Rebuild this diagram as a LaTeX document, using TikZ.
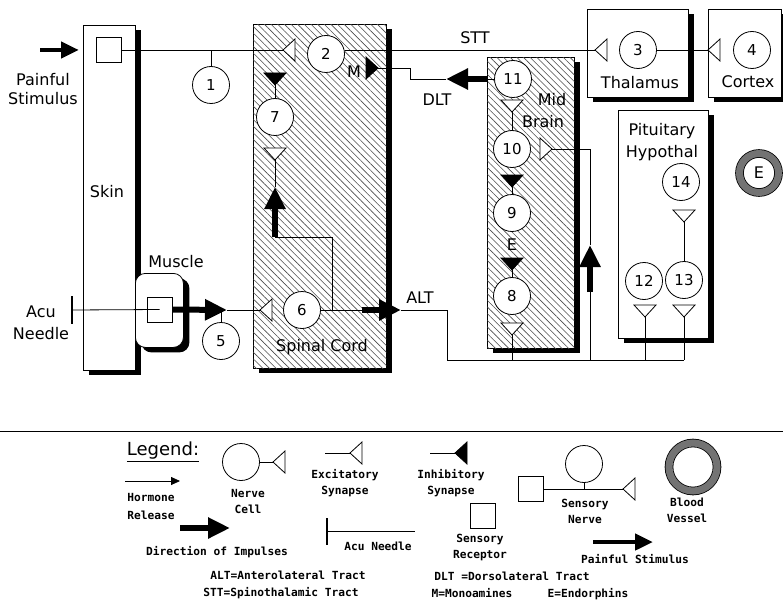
\documentclass[tikz,border=0pt]{standalone}
\usepackage{fontspec}
\setmainfont{DejaVu Sans}
\newfontfamily\legendfont{DejaVu Sans Mono}
\usetikzlibrary{arrows.meta, patterns.meta, shadows}

\tikzset{
  pics/exc/.style={code={\draw[fill=white] (0,0) -- (12,-11) -- (12,11) -- cycle;}},
  pics/inh/.style={code={\draw[fill=black] (0,0) -- (12,-11) -- (12,11) -- cycle;}},
}

\begin{document}
\begin{tikzpicture}[x=1pt, y=-1pt, line width=0.8pt,
    every node/.style={font=\fontsize{16}{19}\selectfont},
    organ/.style={rectangle, draw, fill=white, anchor=north west, inner sep=0pt,
      drop shadow={shadow xshift=6pt, shadow yshift=-5pt, opacity=1, fill=black}},
    hatched/.style={postaction={pattern={Lines[angle=-45, distance=4.7pt, line width=0.6pt]}, pattern color=black!70}},
    cell/.style={circle, draw, fill=white, minimum size=37pt, inner sep=0pt, font=\fontsize{15}{15}\selectfont},
    receptor/.style={rectangle, draw, fill=white, minimum size=25pt, inner sep=0pt},
    vessel/.style={circle, draw=black, double=black!55, double distance=7pt, minimum size=39pt, inner sep=0pt},
    impulse/.style={line width=6pt, -{Triangle[length=22pt, width=20pt]}},
    stim/.style={line width=4.5pt, -{Triangle[length=18pt, width=16pt]}},
    needlebar/.style={line width=2.5pt},
    lbl/.style={align=center},
    ltxt/.style={align=center, font=\legendfont\bfseries\fontsize{11.2}{16}\selectfont}]
  \useasboundingbox (0,0) rectangle (783,604);

  % organs
  \node[organ, minimum width=52pt, minimum height=345pt] (skin) at (83,25) {};
  \node[organ, hatched, minimum width=133pt, minimum height=344pt] (cord) at (253,24) {};
  \node[organ, hatched, minimum width=87pt, minimum height=291pt] (mid) at (487,57) {};
  \node[organ, minimum width=101pt, minimum height=88pt] (thal) at (587,9) {};
  \node[organ, minimum width=73pt, minimum height=88pt] (cortex) at (708,9) {};
  \node[organ, minimum width=90pt, minimum height=228pt] (pit) at (618,110) {};
  \node[organ, rounded corners=10pt, minimum width=48pt, minimum height=74pt] (muscle) at (135,273) {};

  % nerve cells
  \node[cell] (n1) at (211,85) {1};
  \node[cell] (n2) at (326,54) {2};
  \node[cell] (n3) at (638,50) {3};
  \node[cell] (n4) at (752,50) {4};
  \node[cell] (n5) at (221,341) {5};
  \node[cell] (n6) at (302,310) {6};
  \node[cell] (n7) at (275,117) {7};
  \node[cell] (n8) at (512,296) {8};
  \node[cell] (n9) at (512,213) {9};
  \node[cell] (n10) at (512,149) {10};
  \node[cell] (n11) at (513,79) {11};
  \node[cell] (n12) at (644,281) {12};
  \node[cell] (n13) at (684,280) {13};
  \node[cell] (n14) at (681,182) {14};
  \node[receptor] (rec) at (108.5,50) {};
  \node[receptor] (msq) at (159.5,309.5) {};
  \node[vessel] (vessel) at (759,173) {E};

  % synapses
  \coordinate (sc1) at (283,50);
  \coordinate (sth) at (595,50);
  \coordinate (sco) at (708,50);
  \coordinate (s6) at (260,310);
  \coordinate (sM) at (378,68);
  \coordinate (s10) at (552,149);
  \coordinate (s7a) at (275,85);
  \coordinate (s7b) at (275,160);
  \coordinate (s11) at (512,112);
  \coordinate (s9) at (512,187);
  \coordinate (s8a) at (512,270);
  \coordinate (s8b) at (512,335);
  \coordinate (s14) at (684,222);
  \coordinate (s12) at (645,317);
  \coordinate (s13) at (684,317);
  \foreach \s in {sc1, sth, sco, s6} \pic at (\s) {exc};
  \foreach \s in {s7b, s11, s8b, s14, s12, s13} \pic[rotate=90] at (\s) {exc};
  \foreach \s in {s7a, s9, s8a} \pic[rotate=90] at (\s) {inh};
  \pic[rotate=180] at (sM) {inh};
  \pic[rotate=180] at (s10) {exc};

  % path points
  \coordinate (pain) at (40,50);
  \coordinate (needle) at (72,310);
  \coordinate (musB) at (227,310);
  \coordinate (altA) at (362,310);
  \coordinate (altB) at (401,310);
  \coordinate (altC) at (447,360);
  \coordinate (altD) at (684,360);
  \coordinate (upA) at (590,292);
  \coordinate (upB) at (590,245);
  \coordinate (brA) at (332,310);
  \coordinate (brB) at (275,237);
  \coordinate (brC) at (275,187);
  \coordinate (dltA) at (488,79);
  \coordinate (dltB) at (446,79);
  \coordinate (dltC) at (410,68);

  % STT
  \draw[stim, shorten >=4pt] (pain) -- (pain -| skin.west);
  \draw (rec) -- (sc1);
  \draw (n1) -- (n1 |- rec);
  \draw (n2.east |- sth) -- (sth);
  \draw (n3) -- (sco);
  % acu needle and ALT
  \draw[needlebar] (needle) ++(0,-14) -- ++(0,28);
  \draw (needle) -- (msq.center);
  \draw[impulse] (msq.east) -- (musB);
  \draw (musB) -- (s6);
  \draw (n5) -- (n5 |- s6);
  \draw (n6) -- (altA);
  \draw[impulse] (altA) -- (altB);
  \draw (altB) -| (altC) -- (altD);
  \draw (s8b) -- (s8b |- altC);
  \draw (s12) -- (s12 |- altC);
  \draw (s13) -- (s13 |- altC);
  \draw (upA |- altC) -- (upA);
  \draw[impulse] (upA) -- (upB);
  \draw (upB) |- (s10);
  \draw (brA) |- (brB);
  \draw[impulse] (brB) -- (brC);
  \draw (brC) -- (s7b);
  \draw (s7a) -- (n7);
  \draw (s11) -- (n10);
  \draw (s9) -- (n9);
  \draw (s8a) -- (n8);
  \draw (s14) -- (n13);
  % DLT
  \draw (n11) -- (dltA);
  \draw[impulse] (dltA) -- (dltB);
  \draw (dltB) -| (dltC) -- (sM);

  % labels
  \node[lbl] at (43,89) {Painful\\Stimulus};
  \node at (107,192) {Skin};
  \node at (176,262) {Muscle};
  \node[lbl, font=\fontsize{16}{22}\selectfont] at (41,323) {Acu\\Needle};
  \node at (322,347) {Spinal Cord};
  \node at (354,72) {M};
  \node at (475,38) {STT};
  \node at (437,100) {DLT};
  \node at (420,298) {ALT};
  \node at (552,100) {Mid};
  \node at (543,122) {Brain};
  \node at (512,245) {E};
  \node at (640,83) {Thalamus};
  \node at (748,82) {Cortex};
  \node[lbl, font=\fontsize{16}{22}\selectfont] at (662,142) {Pituitary\\Hypothal};

  % legend
  \coordinate (sepL) at (0,431);
  \coordinate (sepR) at (783,431);
  \draw (sepL) -- (sepR);
  \node[font=\fontsize{18}{18}\selectfont] (legend) at (163,452) {\underline{Legend:}};
  \coordinate (hormA) at (125,481);
  \coordinate (hormB) at (180,481);
  \draw[-{Triangle[length=9pt, width=8pt]}] (hormA) -- (hormB);
  \node[ltxt, font=\legendfont\bfseries\fontsize{11.2}{18}\selectfont] at (151,506) {Hormone\\Release};
  \node[cell] (lnc) at (241,462) {};
  \coordinate (lncs) at (273,462);
  \draw (lnc) -- (lncs);
  \pic at (lncs) {exc};
  \node[ltxt] at (248,501) {Nerve\\Cell};
  \coordinate (lexA) at (325,453);
  \coordinate (lex) at (350,453);
  \draw (lexA) -- (lex);
  \pic at (lex) {exc};
  \node[ltxt] at (345,483) {Excitatory\\Synapse};
  \coordinate (linA) at (430,453);
  \coordinate (lin) at (455,453);
  \draw (linA) -- (lin);
  \pic at (lin) {inh};
  \node[ltxt] at (451,483) {Inhibitory\\Synapse};
  \node[receptor] (lsq) at (530.5,489) {};
  \node[cell] (lsn) at (584,464) {};
  \coordinate (lss) at (623,489);
  \draw (lsq) -- (lss);
  \draw (lsn) -- (lsn |- lss);
  \pic at (lss) {exc};
  \node[ltxt] at (585,511) {Sensory\\Nerve};
  \node[vessel, minimum size=48pt] (lbv) at (693,467) {};
  \node[ltxt] at (687,510) {Blood\\Vessel};
  \node[receptor] (lrec) at (482.5,515.5) {};
  \node[ltxt] at (480,548) {Sensory\\Receptor};
  \coordinate (lpA) at (593,542);
  \coordinate (lpB) at (653,542);
  \draw[stim] (lpA) -- (lpB);
  \node[ltxt] at (635,559) {Painful Stimulus};
  \coordinate (ldA) at (180,528);
  \coordinate (ldB) at (230,528);
  \draw[impulse] (ldA) -- (ldB);
  \node[ltxt] at (217,552) {Direction of Impulses};
  \coordinate (lacu) at (327,531);
  \coordinate (lacuB) at (415,531);
  \draw[needlebar] (lacu) ++(0,-13) -- ++(0,27);
  \draw (lacu) -- (lacuB);
  \node[ltxt] at (378,546) {Acu Needle};
  \node[ltxt] at (288,575) {ALT=Anterolateral Tract};
  \node[ltxt] at (281,593) {STT=Spinothalamic Tract};
  \node[ltxt] at (512,576) {DLT =Dorsolateral Tract};
  \node[ltxt] at (472,593) {M=Monoamines};
  \node[ltxt] at (588,594) {E=Endorphins};
\end{tikzpicture}
\end{document}
